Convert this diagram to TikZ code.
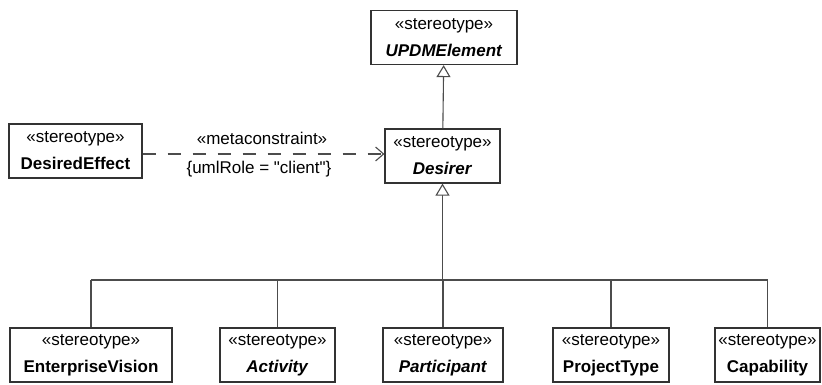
\documentclass[tikz,border=0pt]{standalone}
\usepackage{fontspec}
\setmainfont{Liberation Sans}[Ligatures=TeXOff]
\usetikzlibrary{arrows.meta}

\tikzset{
  stereo/.style={draw=black!80, line width=1.2pt, fill=white, inner sep=0pt,
    minimum height=54pt, align=center, font=\fontsize{17}{27}\selectfont},
  link/.style={draw=black!70, line width=1.1pt},
  generalize/.style={-{Triangle[open, fill=white, length=12pt, width=14pt]}},
}

\begin{document}
\begin{tikzpicture}[x=1pt, y=-1pt]
    \useasboundingbox (0,0) rectangle (822,384);

    % top of the hierarchy
    \node[stereo, minimum width=146pt] (updm) at (444,37.5) {«stereotype»\\\textbf{\textit{UPDMElement}}};
    \node[stereo, minimum width=115pt] (desirer) at (442.5,156) {«stereotype»\\\textbf{\textit{Desirer}}};
    \node[stereo, minimum width=133pt] (effect) at (75.5,151) {«stereotype»\\\textbf{DesiredEffect}};

    % specialisations
    \node[stereo, minimum width=162pt] (vision) at (91,355) {«stereotype»\\\textbf{EnterpriseVision}};
    \node[stereo, minimum width=115pt] (activity) at (277.5,355) {«stereotype»\\\textbf{\textit{Activity}}};
    \node[stereo, minimum width=120pt] (participant) at (443,355) {«stereotype»\\\textbf{\textit{Participant}}};
    \node[stereo, minimum width=116pt] (project) at (611,355) {«stereotype»\\\textbf{ProjectType}};
    \node[stereo, minimum width=105pt] (capability) at (767.5,355) {«stereotype»\\\textbf{Capability}};

    % generalization to UPDMElement
    \draw[link, generalize] (desirer) -- (updm);

    % dependency with metaconstraint
    \coordinate (depstart) at ([yshift=-3pt]effect.east);
    \draw[link, dash pattern=on 13pt off 12pt, -{Straight Barb[length=8pt, width=14pt]}]
        (depstart) -- (depstart -| desirer.west);
    \node[font=\fontsize{17}{20}\selectfont] (meta) at (262,138) {«metaconstraint»};
    \node[font=\fontsize{17}{20}\selectfont] (role) at (259,169) {\{umlRole = "client"\}};

    % generalization bus
    \coordinate (bus) at (442.5,280);
    \draw[link, generalize] (bus) -- (desirer);
    \draw[link] (vision.north |- bus) -- (capability.north |- bus);
    \foreach \n in {vision, activity, participant, project, capability}
        \draw[link] (\n.north |- bus) -- (\n.north);

\end{tikzpicture}
\end{document}
